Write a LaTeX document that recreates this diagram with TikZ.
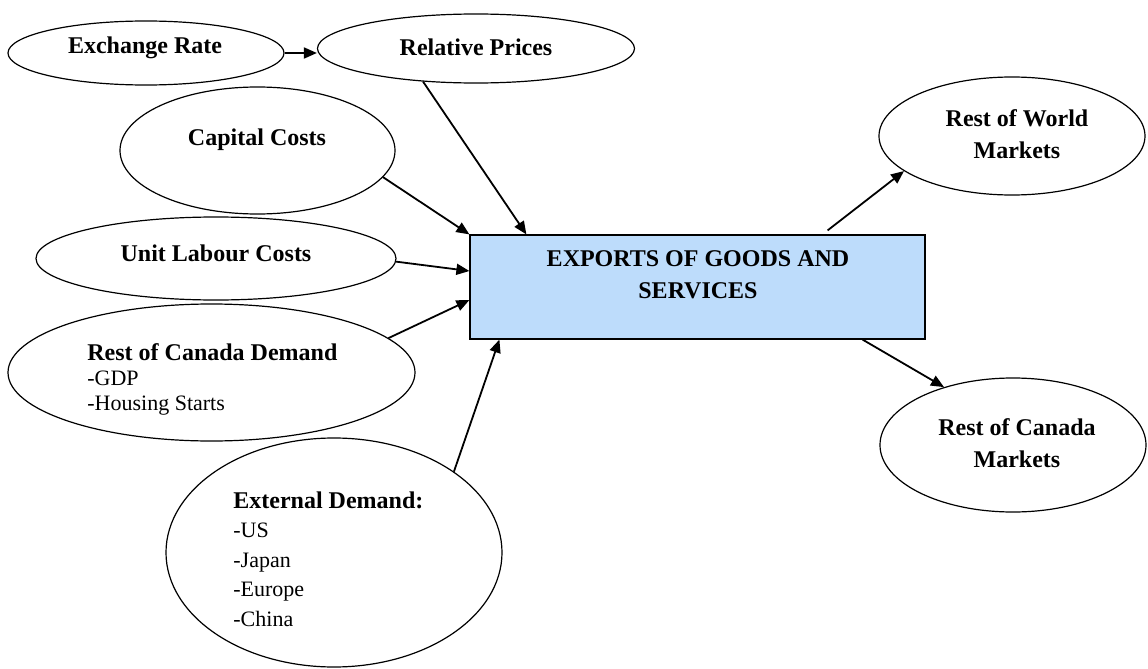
\documentclass[tikz,border=0pt]{standalone}
\usepackage{fontspec}
\setmainfont{Liberation Serif}
\usetikzlibrary{shapes.geometric,arrows.meta}
\definecolor{boxblue}{RGB}{189,220,251}
\tikzset{
  oval/.style={ellipse, draw, line width=0.6pt, inner sep=0pt},
  arr/.style={-{Triangle[length=6.5pt,width=5.5pt]}, line width=0.9pt},
  head/.style={font=\fontsize{12}{16}\selectfont\bfseries, inner sep=0pt, align=center},
  list/.style={font=\fontsize{11}{12.5}\selectfont, inner sep=0pt, align=left, anchor=north west}
}

\begin{document}
\begin{tikzpicture}[x=0.5pt, y=-0.5pt]
		\useasboundingbox (0,0) rectangle (1148,669);
		% drivers
		\node(exch)[oval, minimum width=138pt, minimum height=32pt] at (146,53){};
		\node(relp)[oval, minimum width=158.5pt, minimum height=34.5pt] at (476,48.5){};
		\node(capc)[oval, minimum width=137.5pt, minimum height=63.5pt] at (257.5,150.5){};
		\node(ulc)[oval, minimum width=180pt, minimum height=41.5pt] at (216,258.5){};
		\node(rcd)[oval, minimum width=203.5pt, minimum height=68.5pt] at (211.5,372.5){};
		\node(extd)[oval, minimum width=168pt, minimum height=114.5pt] at (334,552.5){};
		% exports and markets
		\node(box)[draw, fill=boxblue, line width=0.6pt, minimum width=227.5pt, minimum height=52pt, inner sep=0pt] at (697.5,287){};
		\node(rowm)[oval, minimum width=133pt, minimum height=59pt] at (1012,136){};
		\node(rocm)[oval, minimum width=133pt, minimum height=67pt] at (1013,445){};
		% texts
		\node(exchtxt)[head] at (145,48){Exchange Rate};
		\node(relptxt)[head] at (476,47){Relative Prices};
		\node(capctxt)[head] at (257,140){Capital Costs};
		\node(ulctxt)[head] at (216,253){Unit Labour Costs};
		\node(rcdtxt)[list] at (87,343){{\fontsize{12}{12.5}\selectfont\bfseries Rest of Canada Demand}\\-GDP\\-Housing Starts};
		\node(extdtxt)[list, font=\fontsize{11}{14.75}\selectfont] at (233,491){{\fontsize{12}{14.75}\selectfont\bfseries External Demand:}\\-US\\-Japan\\-Europe\\-China};
		\node(boxtxt)[head] at (698,275){EXPORTS OF GOODS AND\\SERVICES};
		\node(rowmtxt)[head] at (1017,134){Rest of World\\Markets};
		\node(rocmtxt)[head] at (1017,443){Rest of Canada\\Markets};
		% arrows
		\draw[arr](exch.east) to (exch.east -| relp.west);
		\draw[arr](relp.212) to ([xshift=28.5pt]box.north west);
		\draw[arr](capc.-12) to (box.north west);
		\draw[arr](ulc.-1) to ([yshift=8pt]box.west);
		\draw[arr](rcd.11) to ([yshift=-6.5pt]box.west);
		\draw[arr](extd.34) to ([xshift=15pt]box.south west);
		\draw[arr]([xshift=-49pt,yshift=2pt]box.north east) to (rowm.198);
		\draw[arr]([xshift=-31.5pt]box.south east) to (rocm.140);
	\end{tikzpicture}
\end{document}
